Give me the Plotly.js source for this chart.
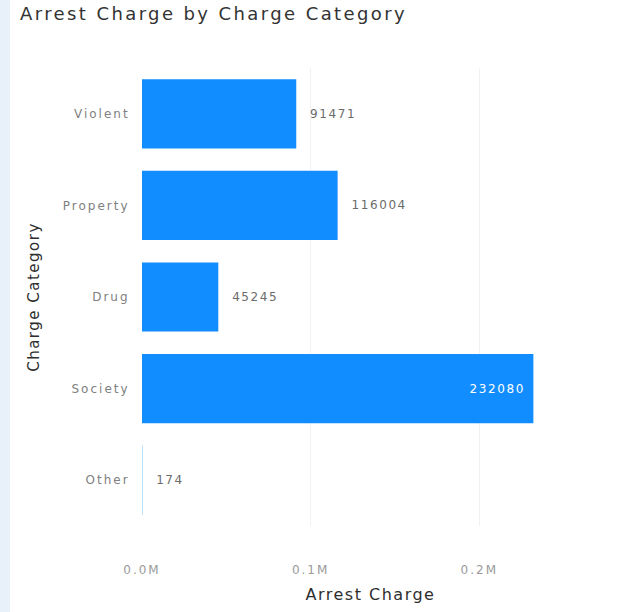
<!DOCTYPE html>
<html>
<head>
<meta charset="utf-8">
<script src="https://cdn.plot.ly/plotly-3.0.1.min.js"></script>
<style>
  html, body { margin: 0; padding: 0; background: #e8f0fa; }
  #chart { position: absolute; left: 10px; top: 0; width: 616px; height: 612px; background: #ffffff; }
  .gtitle { letter-spacing: 2.4px; }
  .ytick text, .xtick text { letter-spacing: 2px; }
  .xtitle, .ytitle { letter-spacing: 1.5px; }
  .bartext { letter-spacing: 1.6px; }
</style>
</head>
<body>
<div id="chart"></div>
<script>
const categories = ['Violent', 'Property', 'Drug', 'Society', 'Other'];
const arrestCharge = [91471, 116004, 45245, 232080, 174];
const tickValues = [0, 100000, 200000];
const tickLabels = ['0.0M', '0.1M', '0.2M'];

const FONT = 'DejaVu Sans, sans-serif';
const maxVal = Math.max(...arrestCharge);
const NB = '\u00A0';
const positions = arrestCharge.map(v => v === maxVal ? 'inside' : 'outside');
const labels = arrestCharge.map(v => v === maxVal ? String(v) + NB : NB + NB + String(v));

const trace = {
  type: 'bar',
  orientation: 'h',
  y: categories,
  x: arrestCharge,
  marker: { color: '#118DFF' },
  text: labels,
  textposition: positions,
  insidetextanchor: 'end',
  textangle: 0,
  cliponaxis: false,
  constraintext: 'none',
  insidetextfont: { family: FONT, size: 12, color: '#ffffff' },
  outsidetextfont: { family: FONT, size: 12, color: '#6b6b6b' },
  hoverinfo: 'none'
};

const layout = {
  width: 616,
  height: 612,
  paper_bgcolor: '#ffffff',
  plot_bgcolor: '#ffffff',
  margin: { l: 132, r: 27, t: 68, b: 86 },
  showlegend: false,
  bargap: 0.245,
  title: {
    text: 'Arrest Charge by Charge Category',
    font: { family: FONT, size: 18, color: '#333333' },
    xref: 'container', x: 10 / 616, xanchor: 'left',
    yref: 'container', y: 1 - 14 / 612, yanchor: 'middle'
  },
  xaxis: {
    range: [0, 271000],
    tickvals: tickValues,
    ticktext: tickLabels,
    showgrid: true,
    gridcolor: '#f1f1f1',
    zeroline: false,
    showline: false,
    ticks: 'outside',
    ticklen: 33,
    tickcolor: 'rgba(0,0,0,0)',
    tickfont: { family: FONT, size: 12, color: '#9a9a9a' },
    title: {
      text: 'Arrest Charge',
      font: { family: FONT, size: 16, color: '#2e2e2e' },
      standoff: 12
    },
    fixedrange: true
  },
  yaxis: {
    autorange: 'reversed',
    showgrid: false,
    zeroline: false,
    showline: false,
    ticks: 'outside',
    ticklen: 9,
    tickcolor: 'rgba(0,0,0,0)',
    tickfont: { family: FONT, size: 12, color: '#808080' },
    title: {
      text: 'Charge Category',
      font: { family: FONT, size: 15, color: '#2e2e2e' },
      standoff: 19
    },
    fixedrange: true
  }
};

Plotly.newPlot('chart', [trace], layout, { displayModeBar: false, staticPlot: true });
</script>
</body>
</html>
